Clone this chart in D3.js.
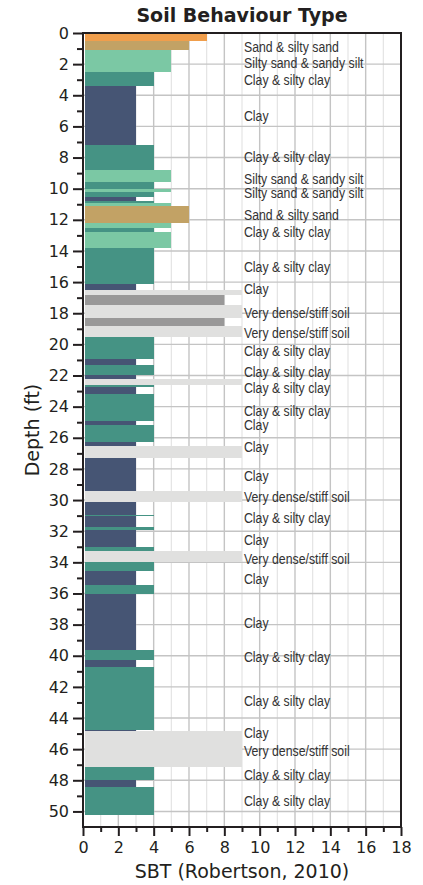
<!DOCTYPE html>
<html>
<head>
<meta charset="utf-8">
<script src="https://cdn.jsdelivr.net/npm/d3@7"></script>
<style>
  html, body { margin: 0; padding: 0; background: #fff; }
  svg { display: block; }
</style>
</head>
<body>
<svg id="chart" width="423" height="885"></svg>
<script>
// Soil layers: top depth (ft) of each layer and its SBT zone; each layer ends where the next begins
const layerTops = [0, 0.5, 1.1, 2.5, 3.4, 7.2, 8.8, 9.55, 10.05, 10.2,
  10.55, 10.8, 10.9, 11.1, 12.2, 12.5, 12.8, 13.8, 16.15, 16.5,
  16.85, 17.5, 18.3, 18.8, 19.55, 20.95, 21.3, 21.95, 22.25, 22.6,
  22.75, 23.2, 24.95, 25.2, 26.3, 26.55, 27.3, 29.4, 30.1, 30.95,
  31.05, 31.7, 31.95, 33.0, 33.25, 34.0, 34.55, 35.45, 36.05, 39.65,
  40.3, 40.75, 44.75, 44.85, 47.15, 48.0, 48.45];
const lastLayerBottom = 50.2;
const layerSbt = [7, 6, 5, 4, 3, 4, 5, 4, 5, 4,
  3, 4, 5, 6, 5, 4, 5, 4, 3, 9,
  8, 9, 8, 9, 4, 3, 4, 3, 9, 4,
  3, 4, 3, 4, 3, 9, 3, 9, 3, 4,
  3, 4, 3, 4, 9, 4, 3, 4, 3, 4,
  3, 4, 3, 9, 4, 3, 4];

// Zone colours
const sbtZones = [3, 4, 5, 6, 7, 8, 9];
const sbtColours = ["#465574", "#459384", "#7bc8a4", "#c2a265", "#f09e4c", "#999898", "#e0e0df"];

// Layer descriptions and the depth they are written at
const labelDepths = [0.9, 1.9, 3.0, 5.28, 7.95, 9.34, 10.24, 11.65, 12.75, 15.01,
  16.4, 17.96, 19.24, 20.39, 21.75, 22.75, 24.25, 25.16, 26.59, 28.46,
  29.8, 31.15, 32.54, 33.78, 35.04, 37.85, 40.07, 42.85, 44.94, 46.12,
  47.61, 49.33];
const labelTexts = ["Sand & silty sand", "Silty sand & sandy silt", "Clay & silty clay", "Clay",
  "Clay & silty clay", "Silty sand & sandy silt", "Silty sand & sandy silt", "Sand & silty sand",
  "Clay & silty clay", "Clay & silty clay", "Clay", "Very dense/stiff soil", "Very dense/stiff soil",
  "Clay & silty clay", "Clay & silty clay", "Clay & silty clay", "Clay & silty clay", "Clay", "Clay",
  "Clay", "Very dense/stiff soil", "Clay & silty clay", "Clay", "Very dense/stiff soil", "Clay",
  "Clay", "Clay & silty clay", "Clay & silty clay", "Clay", "Very dense/stiff soil",
  "Clay & silty clay", "Clay & silty clay"];

// Axis ticks
const depthTickLabels = [0, 2, 4, 6, 8, 10, 12, 14, 16, 18, 20, 22, 24, 26, 28, 30, 32, 34, 36, 38, 40, 42, 44, 46, 48, 50];
const depthMinorTicks = [1, 3, 5, 7, 9, 11, 13, 15, 17, 19, 21, 23, 25, 27, 29, 31, 33, 35, 37, 39, 41, 43, 45, 47, 49];
const sbtTickLabels = [0, 2, 4, 6, 8, 10, 12, 14, 16, 18];
const sbtMinorTicks = [1, 3, 5, 7, 9, 11, 13, 15, 17];
const depthDomain = [0, 51];
const sbtDomain = [0, 18];

const svg = d3.select("#chart");
const plot = { left: 83, right: 401, top: 33, bottom: 827 };
const ink = "#231f20";
const axisFont = "'DejaVu Sans', Verdana, sans-serif";

const x = d3.scaleLinear().domain(sbtDomain).range([plot.left, plot.right]);
const y = d3.scaleLinear().domain(depthDomain).range([plot.top, plot.bottom]);
const colour = d3.scaleOrdinal().domain(sbtZones).range(sbtColours);

// Grid
const grid = svg.append("g");
grid.selectAll("line.vminor").data(sbtMinorTicks).join("line")
  .attr("x1", d => x(d)).attr("x2", d => x(d))
  .attr("y1", plot.top).attr("y2", plot.bottom)
  .attr("stroke", "#e4e4e4").attr("stroke-width", 1.2);
grid.selectAll("line.vmajor").data(sbtTickLabels.slice(1, -1)).join("line")
  .attr("x1", d => x(d)).attr("x2", d => x(d))
  .attr("y1", plot.top).attr("y2", plot.bottom)
  .attr("stroke", "#c4c4c4").attr("stroke-width", 1.4);
grid.selectAll("line.hmajor").data(depthTickLabels.slice(1)).join("line")
  .attr("x1", plot.left).attr("x2", plot.right)
  .attr("y1", d => y(d)).attr("y2", d => y(d))
  .attr("stroke", "#c4c4c4").attr("stroke-width", 1.4);

// Layers
const layers = layerTops.map((top, i) => ({
  top,
  bottom: i + 1 < layerTops.length ? layerTops[i + 1] : lastLayerBottom,
  sbt: layerSbt[i]
}));
svg.append("g").selectAll("rect").data(layers).join("rect")
  .attr("x", x(0) + 1.5)
  .attr("y", d => y(d.top))
  .attr("width", d => x(d.sbt) - x(0) - 1.5)
  .attr("height", d => y(d.bottom) - y(d.top))
  .attr("fill", d => colour(d.sbt))
  .attr("shape-rendering", "crispEdges");

// Layer descriptions, set in a condensed face
svg.append("g").selectAll("text").data(labelTexts).join("text")
  .attr("transform", (d, i) => `translate(${x(9) + 2},${y(labelDepths[i])}) scale(0.82,1)`)
  .attr("dy", "0.36em")
  .attr("font-family", "'Liberation Sans', Arial, sans-serif")
  .attr("font-size", 15)
  .attr("fill", "#333")
  .text(d => d);

// Frame
svg.append("rect")
  .attr("x", plot.left).attr("y", plot.top)
  .attr("width", plot.right - plot.left).attr("height", plot.bottom - plot.top)
  .attr("fill", "none").attr("stroke", ink).attr("stroke-width", 2);

// Depth axis
const yAxis = svg.append("g").attr("transform", `translate(${plot.left},0)`)
  .call(d3.axisLeft(y).tickValues(depthTickLabels).tickSize(10).tickPadding(4).tickFormat(d3.format("d")));
const yMinor = svg.append("g").attr("transform", `translate(${plot.left},0)`)
  .call(d3.axisLeft(y).tickValues(depthMinorTicks).tickSize(6).tickFormat(""));

// SBT axis
const xAxis = svg.append("g").attr("transform", `translate(0,${plot.bottom})`)
  .call(d3.axisBottom(x).tickValues(sbtTickLabels).tickSize(9).tickPadding(6).tickFormat(d3.format("d")));
const xMinor = svg.append("g").attr("transform", `translate(0,${plot.bottom})`)
  .call(d3.axisBottom(x).tickValues(sbtMinorTicks).tickSize(5).tickFormat(""));

[yAxis, yMinor, xAxis, xMinor].forEach(g => {
  g.select(".domain").remove();
  g.selectAll(".tick line").attr("stroke", ink).attr("stroke-width", 2);
  g.selectAll(".tick text").attr("fill", ink).attr("font-family", axisFont).attr("font-size", 16);
});

// Titles
svg.append("text")
  .attr("x", (plot.left + plot.right) / 2).attr("y", 22)
  .attr("text-anchor", "middle")
  .attr("font-family", axisFont).attr("font-weight", "bold").attr("font-size", 19)
  .attr("fill", ink)
  .text("Soil Behaviour Type");

svg.append("text")
  .attr("x", (plot.left + plot.right) / 2).attr("y", 878)
  .attr("text-anchor", "middle")
  .attr("font-family", axisFont).attr("font-size", 19)
  .attr("fill", ink)
  .text("SBT (Robertson, 2010)");

svg.append("text")
  .attr("transform", `translate(39,${(plot.top + plot.bottom) / 2}) rotate(-90)`)
  .attr("text-anchor", "middle")
  .attr("font-family", axisFont).attr("font-size", 19)
  .attr("fill", ink)
  .text("Depth (ft)");
</script>
</body>
</html>
